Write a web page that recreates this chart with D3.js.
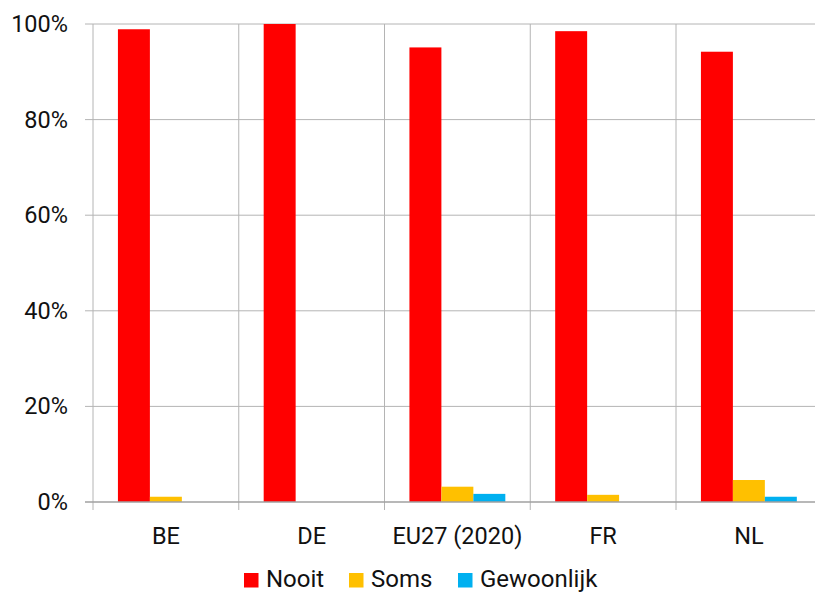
<!DOCTYPE html>
<html><head><meta charset="utf-8">
<script src="https://cdn.jsdelivr.net/npm/d3@7"></script>
<style>body{margin:0;background:#fff}text{font-family:Roboto,sans-serif;fill:#111}</style>
</head><body>
<svg id="c" width="815" height="592"></svg>
<script>
const categories = ["BE","DE","EU27 (2020)","FR","NL"];
const seriesNames = ["Nooit","Soms","Gewoonlijk"];
const nooit = [98.9, 100, 95.1, 98.5, 94.2];
const soms = [1.1, 0, 3.2, 1.5, 4.6];
const gewoonlijk = [0, 0, 1.7, 0, 1.1];
const colors = ["#ff0000","#ffc000","#00b0f0"];
const yTicks = [0,20,40,60,80,100];

(function(){
const svg = d3.select("#c");
const mLeft = 93, mTop = 24, mBottom = 502, catW = 145.75;
const mRight = mLeft + catW*categories.length;
const x = d3.scaleBand().domain(categories).range([mLeft,mRight]).padding(0);
const y = d3.scaleLinear().domain([0,100]).range([mBottom,mTop]);
const inner = d3.scaleBand().domain(seriesNames).range([0,x.bandwidth()]).paddingOuter(0.78).paddingInner(0);
const values = [nooit, soms, gewoonlijk];

svg.append("g").selectAll("line").data(yTicks.filter(t=>t>0)).join("line")
  .attr("x1",85).attr("x2",815).attr("y1",d=>y(d)).attr("y2",d=>y(d))
  .attr("stroke","#b4b4b4").attr("stroke-width",1);
const seps = categories.map((c)=>x(c)).concat([mRight]);
svg.append("g").selectAll("line").data(seps).join("line")
  .attr("x1",d=>d).attr("x2",d=>d).attr("y1",mTop).attr("y2",510)
  .attr("stroke","#b4b4b4").attr("stroke-width",1);

seriesNames.forEach((s,si)=>{
  svg.append("g").selectAll("rect").data(categories.map((c,i)=>({c,v:values[si][i]}))).join("rect")
    .attr("x",d=>x(d.c)+inner(s)).attr("width",inner.bandwidth())
    .attr("y",d=>y(d.v)).attr("height",d=>mBottom-y(d.v))
    .attr("fill",colors[si]);
});

svg.append("line").attr("x1",85).attr("x2",815).attr("y1",y(0)).attr("y2",y(0))
  .attr("stroke","#a0a0a0").attr("stroke-width",1.5);

svg.append("g").selectAll("text").data(yTicks).join("text")
  .attr("x",68).attr("y",d=>y(d)+8).attr("text-anchor","end")
  .attr("font-size",23.5).text(d=>d+"%");

svg.append("g").selectAll("text").data(categories).join("text")
  .attr("x",d=>x(d)+x.bandwidth()/2).attr("y",544).attr("text-anchor","middle")
  .attr("font-size",23.5).text(d=>d);

const legX = [244, 349, 458];
const lg = svg.append("g");
seriesNames.forEach((s,i)=>{
  lg.append("rect").attr("x",legX[i]).attr("y",573).attr("width",14.5).attr("height",14.5).attr("fill",colors[i]);
  lg.append("text").attr("x",legX[i]+22).attr("y",587).attr("font-size",24).text(s);
});
})();
</script>
</body></html>
